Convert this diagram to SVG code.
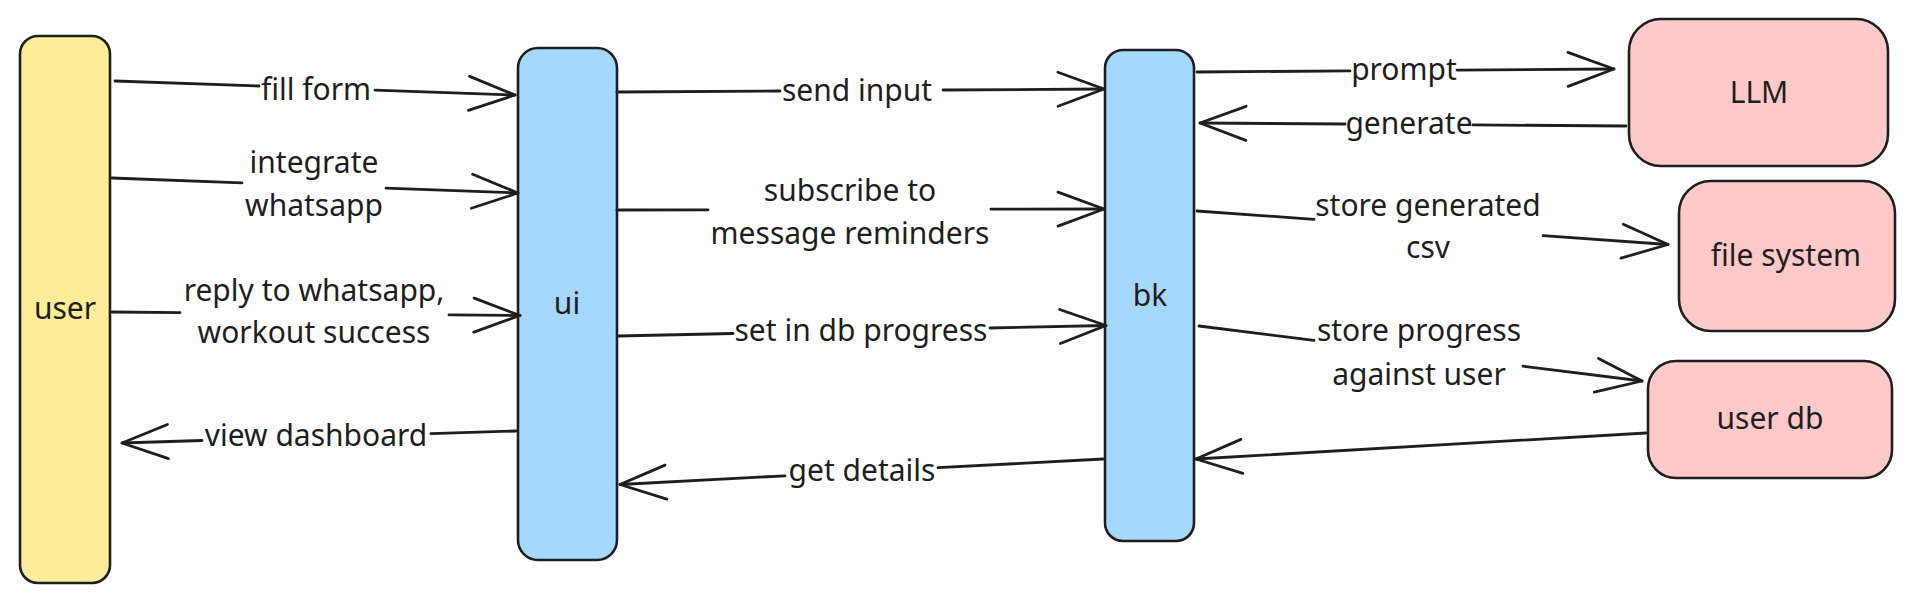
<svg xmlns="http://www.w3.org/2000/svg" width="1914" height="602" viewBox="0 0 1914 602">
<style>
.box{stroke:#1e1e1e;stroke-width:2.6;}
.actor{fill:#ffec99;}
.svc{fill:#a5d8ff;}
.ext{fill:#ffc9c9;}
.lbl{font-family:"Noto Sans","Open Sans",sans-serif;font-size:30px;fill:#1e1e1e;text-anchor:middle;}
.ln{fill:none;stroke:#1e1e1e;stroke-width:2.8;stroke-linecap:round;}
</style>
<defs>
<marker id="ah" markerUnits="userSpaceOnUse" orient="auto" overflow="visible" markerWidth="1" markerHeight="1" refX="0" refY="0">
<path d="M-46,-17 L0,0 L-46,17" fill="none" stroke="#1e1e1e" stroke-width="2.8" stroke-linecap="round" stroke-linejoin="round"/>
</marker>
</defs>
<rect width="1914" height="602" fill="#ffffff"/>
<g id="user"><rect class="box actor" x="20" y="36" width="90" height="547" rx="18"/><text class="lbl" x="65" y="319">user</text></g>
<g id="ui"><rect class="box svc" x="518" y="48" width="99" height="512" rx="20"/><text class="lbl" x="567" y="314">ui</text></g>
<g id="bk"><rect class="box svc" x="1105" y="50" width="89" height="491" rx="18"/><text class="lbl" x="1150" y="306">bk</text></g>
<g id="llm"><rect class="box ext" x="1629" y="19" width="259" height="147" rx="32"/><text class="lbl" x="1759" y="103">LLM</text></g>
<g id="filesystem"><rect class="box ext" x="1679" y="181" width="216" height="150" rx="32"/><text class="lbl" x="1786" y="266">file system</text></g>
<g id="userdb"><rect class="box ext" x="1648" y="361" width="244" height="117" rx="28"/><text class="lbl" x="1770" y="429">user db</text></g>
<g id="connectors">
<path class="ln" d="M115,81 L259,86"/><path class="ln" d="M375,90.1 L515,95" marker-end="url(#ah)"/>
<text class="lbl" x="316" y="100">fill form</text>
<path class="ln" d="M112,178 L242,182.8"/><path class="ln" d="M386,188.1 L518,193" marker-end="url(#ah)"/>
<text class="lbl" x="314" y="173">integrate</text><text class="lbl" x="314" y="216">whatsapp</text>
<path class="ln" d="M112,312 L180,312.6"/><path class="ln" d="M449,314.9 L520,315.5" marker-end="url(#ah)"/>
<text class="lbl" x="314" y="301">reply to whatsapp,</text><text class="lbl" x="314" y="343">workout success</text>
<path class="ln" d="M516,431 L431,433.6"/><path class="ln" d="M202,440.5 L122,443" marker-end="url(#ah)"/>
<text class="lbl" x="316" y="446">view dashboard</text>
<path class="ln" d="M617,92 L780,91"/><path class="ln" d="M943,90 L1104,89" marker-end="url(#ah)"/>
<text class="lbl" x="857" y="101">send input</text>
<path class="ln" d="M617,210 L708,209.8"/><path class="ln" d="M991,209.2 L1104,209" marker-end="url(#ah)"/>
<text class="lbl" x="850" y="201">subscribe to</text><text class="lbl" x="850" y="244">message reminders</text>
<path class="ln" d="M618,336 L733,333.5"/><path class="ln" d="M990,328 L1106,325.5" marker-end="url(#ah)"/>
<text class="lbl" x="861" y="341">set in db progress</text>
<path class="ln" d="M1103,459 L938,467.7"/><path class="ln" d="M785,475.8 L620,484.5" marker-end="url(#ah)"/>
<text class="lbl" x="862" y="481">get details</text>
<path class="ln" d="M1197,72 L1350,70.9"/><path class="ln" d="M1457,70.1 L1614,69" marker-end="url(#ah)"/>
<text class="lbl" x="1404" y="80">prompt</text>
<path class="ln" d="M1626,126 L1473,124.9"/><path class="ln" d="M1345,124 L1200,123" marker-end="url(#ah)"/>
<text class="lbl" x="1409" y="134">generate</text>
<path class="ln" d="M1197,211 L1314,219.3"/><path class="ln" d="M1543,235.6 L1668,244.5" marker-end="url(#ah)"/>
<text class="lbl" x="1428" y="216">store generated</text><text class="lbl" x="1428" y="258">csv</text>
<path class="ln" d="M1199,326 L1314,340.3"/><path class="ln" d="M1523,366.2 L1642,381" marker-end="url(#ah)"/>
<text class="lbl" x="1419" y="341">store progress</text><text class="lbl" x="1419" y="385">against user</text>
<path class="ln" d="M1646,433 L1196,459" marker-end="url(#ah)"/>
</g>
</svg>
